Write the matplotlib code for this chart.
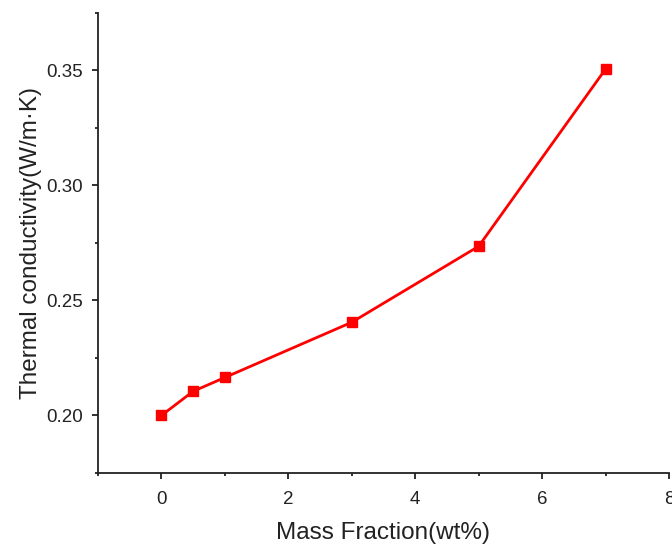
import matplotlib
matplotlib.use("Agg")
import matplotlib.pyplot as plt
from matplotlib.ticker import MultipleLocator

mass_fraction = [0, 0.5, 1, 3, 5, 7]
conductivity = [0.200, 0.2105, 0.2165, 0.2405, 0.2735, 0.3505]

x_ticks = [0, 2, 4, 6, 8]
y_ticks = [0.20, 0.25, 0.30, 0.35]
y_tick_labels = ["0.20", "0.25", "0.30", "0.35"]

plt.rcParams['font.family'] = ['Liberation Sans', 'DejaVu Sans']

fig = plt.figure(figsize=(6.72, 5.46), dpi=100)
ax = fig.add_axes([98/672, 1-473/546, (669-98)/672, (473-12.7)/546])

ax.plot(mass_fraction, conductivity, color='#ff0000', lw=2.0, marker='s',
        markersize=7.3, markeredgecolor='#ff0000', markerfacecolor='#ff0000')

ax.set_xlim(-1, 8)
ax.set_ylim(0.175, 0.375)
ax.set_xticks(x_ticks)
ax.set_yticks(y_ticks)
ax.set_yticklabels(y_tick_labels)
ax.xaxis.set_minor_locator(MultipleLocator(1))
ax.yaxis.set_minor_locator(MultipleLocator(0.025))

for s in ['top', 'right']:
    ax.spines[s].set_visible(False)
for s in ['left', 'bottom']:
    ax.spines[s].set_linewidth(1.3)
    ax.spines[s].set_color('#222222')

ax.tick_params(which='major', direction='out', length=4.5, width=1.3, labelsize=13.5, colors='#222222', pad=6.5)
ax.tick_params(axis='x', which='major', pad=8.5)
ax.tick_params(which='minor', direction='out', length=2.5, width=1.3, colors='#222222')

ax.set_xlabel('Mass Fraction(wt%)', fontsize=17.5, color='#222222', labelpad=10)
ax.set_ylabel('Thermal conductivity(W/m·K)', fontsize=17.5, color='#222222', labelpad=3)

fig.savefig('out.png', dpi=100)
